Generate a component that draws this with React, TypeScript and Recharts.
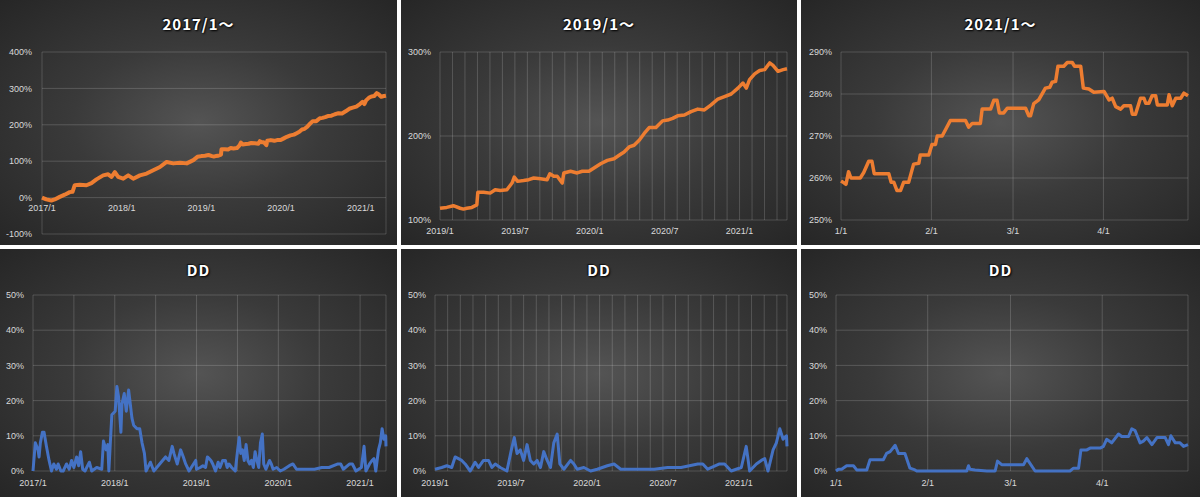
import React from 'react';
import { LineChart, Line, XAxis, YAxis, CartesianGrid, ReferenceDot } from 'recharts';

// ---------- Cumulative return (%) by month index since 2017/1 ----------
const eqMonths = [
  0, 0.65, 1.41, 1.91, 2.67, 3.42, 4.18, 4.6, 4.93, 5.69, 6.69, 7.45, 8.2, 9.21, 9.96, 10.47, 10.97, 11.47,
  12.23, 12.98, 13.74, 14.74, 15.75, 16.75, 17.76, 18.77, 19.77, 20.78, 21.79, 22.79, 23.4,
  24.0, 24.54, 25.07, 25.61, 25.88, 26.15, 26.55, 26.95, 27.03, 27.49, 28.02, 28.42, 28.83, 29.36, 29.77,
  29.95, 30.22, 30.7, 31.11, 31.51, 32.05, 32.58, 32.8, 33.12, 33.39, 33.79, 33.92, 34.46, 34.99, 35.4,
  35.93, 36.34, 36.87, 37.41, 37.94, 38.35, 38.75, 39.15, 39.55, 39.96, 40.36, 40.76, 41.3, 41.83, 42.24,
  42.64, 43.04, 43.58, 44.11, 44.65, 45.18, 45.72, 46.26, 46.79, 47.33, 47.87, 48.27, 48.54, 48.8, 49.21,
  49.61, 50.01, 50.41, 50.68, 51.08, 51.49, 51.8,
];
const eqValues = [
  0, -5, -8, -5, 2, 8, 15, 16, 34, 35, 34, 40, 50, 61, 64, 57, 70, 57,
  52, 61, 52, 61, 66, 75, 84, 98, 94, 96, 94, 103, 112,
  114, 115, 117, 114, 113, 114, 115, 118, 133, 133, 132, 136, 135, 136, 144,
  151, 146, 147, 148, 150, 149, 148, 155, 152, 152, 144, 156, 158, 156, 158,
  158, 162, 167, 171, 173, 177, 181, 187, 189, 195, 203, 210, 210, 218, 219,
  221, 224, 225, 229, 232, 231, 237, 244, 247, 250, 257, 263, 257, 267, 274,
  278, 279, 287, 284, 277, 279, 280,
];

// ---------- Drawdown (%) by month index since 2017/1 ----------
const ddMonths = [
  0, 0.34, 0.74, 0.89, 1.08, 1.38, 1.62, 1.97, 2.36, 2.71, 3.05, 3.45, 3.69, 4.09, 4.43, 4.92, 5.32, 5.66,
  6.0, 6.4, 6.7, 6.99, 7.29, 7.63, 8.27, 8.62, 9.35, 10.09, 10.34, 10.73, 10.98, 11.13, 11.32, 11.57, 12.06,
  12.31, 12.56, 12.9, 13.05, 13.39, 13.69, 14.03, 14.28, 14.52, 14.77, 15.26, 15.66, 16.0, 16.35, 16.59,
  17.23, 17.73, 19.45, 19.94, 20.43, 20.68, 21.17, 21.66, 22.06, 22.4, 22.9, 23.88,
  24.0, 24.53, 24.93, 25.32, 25.59, 25.85, 26.11, 26.38, 26.78, 27.17, 27.44, 27.83, 28.23, 28.49, 28.76,
  29.15, 29.68, 30.03, 30.26, 30.48, 30.74, 31.0, 31.27, 31.53, 31.8, 32.06, 32.33, 32.59, 32.86, 33.12,
  33.38, 33.65, 33.86, 34.18, 34.71, 34.97, 35.23, 35.76, 36.29, 36.82, 37.61, 38.14, 38.67, 39.73, 41.31,
  42.37, 43.43, 44.75, 45.15, 45.54, 46.47, 46.87, 47.39, 48.19, 48.58, 48.85, 49.38, 49.77, 50.04, 50.3,
  50.7, 50.96, 51.23, 51.49, 51.76, 51.8,
];
const ddValues = [
  0, 8, 6, 4, 8, 11, 11, 7, 3, 0, 2, 0.5, 2, 0, 0, 2, 0.5, 3,
  1, 4, 1.5, 5.5, 0.5, 0, 2.5, 0, 1, 0.5, 8.5, 6, 7.5, 0, 7, 16, 17,
  24, 21, 11, 19, 22, 17, 23, 19, 15, 13, 12, 12, 8, 5, 0,
  2.5, 0, 4, 3, 7, 5, 2, 6, 4, 2, 0, 3,
  0.5, 1, 1.5, 1, 4, 3.5, 3, 2, 0, 2.5, 1, 3, 3, 1, 2,
  1, 0, 6, 9.5, 5, 6, 3, 7.5, 3, 2, 3, 1, 5.5, 3, 1,
  8, 10.5, 2, 0.5, 3, 2, 0.5, 1, 0, 0.5, 1.5, 2, 0.5, 0.5, 0.5,
  1, 1, 2, 2, 0.5, 2, 2, 0, 1, 7, 0, 2, 3, 3.5, 0,
  6, 8, 12, 9, 10, 7,
];

// ---------- 2021 daily (day index since 2021/1/1) ----------
const eq21Days = [
  0, 0.9, 1.7, 2.6, 3.4, 6.6, 7.8, 9.5, 10.6, 11.4, 16.4, 17.2, 18.1, 19.2, 20.4, 21.5, 23.2, 24.9, 26.7,
  27.2, 30.1, 31.2, 32.4, 33.0, 34.7, 37.5, 42.7, 43.8, 45.0, 47.8, 48.4, 51.3, 52.4, 53.5, 54.3, 55.8,
  57.0, 63.3, 64.4, 65.0, 66.1, 67.8, 70.1, 71.6, 72.4, 73.6, 74.4, 76.4, 77.6, 79.3, 80.1, 82.2, 83.1,
  85.0, 86.7, 90.2, 91.9, 93.0, 94.2, 95.9, 97.0, 99.3, 99.9, 101.0, 102.7, 103.9, 104.5, 105.6, 106.7,
  107.9, 108.5, 111.9, 112.5, 113.6, 114.8, 116.5, 117.6, 119,
];
const eq21Values = [
  259.3, 258.9, 258.5, 261.5, 260, 260, 261.3, 264, 264, 261, 261, 259, 259, 257, 257, 259, 259, 263.3, 263.5,
  265.5, 265.5, 268, 268, 270, 270, 273.7, 273.7, 272.1, 273, 273, 276.4, 276.4, 278.5, 278.5, 275.5, 275.5,
  276.6, 276.6, 274.8, 274.8, 277.7, 278.6, 281.4, 281.6, 282.8, 283, 286.6, 286.6, 287.5, 287.5, 286.6, 286.6, 281.4,
  281.2, 280.4, 280.6, 278.6, 279, 277, 276.4, 277.2, 277.2, 275.2, 275.2, 279, 279, 277.8, 277.8, 279.6,
  279.6, 277.4, 277.4, 279.8, 277.2, 279, 279, 280.2, 279.6,
];
const dd21Days = [
  0, 0.8, 1.9, 3.6, 5.9, 7.0, 10.4, 11.5, 16.0, 17.1, 18.3, 20.0, 21.1, 23.3, 25.0, 26.7, 27.3, 44.2, 44.8,
  45.3, 47.0, 51.0, 53.8, 54.6, 56.0, 63.4, 64.5, 67.3, 79.1, 80.3, 82.0, 82.8, 84.8, 85.9, 89.3, 90.4, 91.5,
  93.2, 95.5, 96.6, 98.9, 100.0, 101.1, 102.8, 103.9, 105.1, 106.8, 108.5, 111.3, 112.4, 113.2, 114.7, 116.3,
  117.5, 119,
];
const dd21Values = [
  0, 0.5, 0.5, 1.5, 1.5, 0.3, 0.3, 3.2, 3.2, 5, 5.5, 7.3, 5, 5, 0.8, 0.3, 0, 0, 1.5,
  0.5, 0.3, 0, 0, 2.8, 1.8, 1.8, 3.5, 0, 0, 0.8, 0.8, 6, 6, 6.5, 6.5, 7, 9,
  8, 10.5, 9.8, 9.8, 12, 11.5, 8, 8.5, 9.5, 7.5, 9.5, 9.5, 7.5, 10, 8, 8,
  7, 7.5,
];

// ---------- Axis ticks & labels ----------
const halfYearTicks = [0, 6, 12, 18, 24, 30, 36, 42, 48, 51.8];
const yearLabelMonths = [0, 12, 24, 36, 48];
const yearLabels = ['2017/1', '2018/1', '2019/1', '2020/1', '2021/1'];
const monthTicksFrom2019 = [24, 25, 26, 27, 28, 29, 30, 31, 32, 33, 34, 35, 36, 37, 38, 39, 40, 41, 42, 43, 44, 45, 46, 47, 48, 49, 50, 51, 51.8];
const halfYearLabels2019: Record<number, string> = { 24: '2019/1', 30: '2019/7', 36: '2020/1', 42: '2020/7', 48: '2021/1' };
const dayTicks2021 = [0, 31, 59, 90, 119];
const dayLabels2021: Record<number, string> = { 0: '1/1', 31: '2/1', 59: '3/1', 90: '4/1' };

const eqAllTicks = [-100, 0, 100, 200, 300, 400];
const eq2019Ticks = [100, 200, 300];
const eq2021Ticks = [250, 260, 270, 280, 290];
const ddTicks = [0, 10, 20, 30, 40, 50];

const titles = ['2017/1～', '2019/1～', '2021/1～', 'DD'];

const zip = (xs: number[], ys: number[]) => xs.map((t, i) => ({ t, v: ys[i] }));
const eqAll = zip(eqMonths, eqValues);
const eq2019 = eqAll.filter((d) => d.t >= 24);
const eq2021 = zip(eq21Days, eq21Values);
const ddAll = zip(ddMonths, ddValues);
const dd2019 = ddAll.filter((d) => d.t >= 24);
const dd2021 = zip(dd21Days, dd21Values);

const ORANGE = '#ED7D31';
const BLUE = '#4472C4';
const GRID = 'rgba(255,255,255,0.17)';
const LABEL = '#d9d9d9';
const FONT = '"Liberation Sans", Arial, sans-serif';
const tickStyle = { fill: LABEL, fontSize: 9, fontFamily: FONT };
const pct = (v: number) => `${v}%`;

function Panel(props: {
  left: number; top: number; width: number; height: number; title: string; titleTop: number; children: React.ReactNode;
}) {
  const { left, top, width, height, title, titleTop, children } = props;
  return (
    <div
      style={{
        position: 'absolute', left, top, width, height, overflow: 'hidden',
        background: 'radial-gradient(ellipse farthest-corner at 50% 50%, #545454 0%, #3a3a3a 45%, #262626 100%)',
      }}
    >
      <div
        style={{
          position: 'absolute', left: 0, top: titleTop, width: '100%', textAlign: 'center',
          fontFamily: '"Noto Sans CJK JP", "Noto Sans", sans-serif', fontWeight: 700, fontSize: 15, lineHeight: '15px',
          letterSpacing: 1, color: '#ffffff', textShadow: '1px 1px 2px #000, -1px -1px 1px #111',
          pointerEvents: 'none', zIndex: 2,
        }}
      >
        {title}
      </div>
      {children}
    </div>
  );
}

export default function App() {
  return (
    <div style={{ position: 'fixed', left: 0, top: 0, width: 1200, height: 497, background: '#ffffff' }}>
      {/* Top-left: 2017/1~ */}
      <Panel left={0} top={0} width={397} height={245} title={titles[0]} titleTop={16}>
        <LineChart width={397} height={245} data={eqAll} margin={{ top: 52, right: 11, bottom: 11, left: 0 }}>
          <CartesianGrid stroke={GRID} />
          <XAxis dataKey="t" type="number" domain={[0, 51.8]} ticks={halfYearTicks} tick={false} axisLine={false} tickLine={false} height={0} />
          <YAxis type="number" domain={[-100, 400]} ticks={eqAllTicks} tickFormatter={pct} width={42} axisLine={false} tickLine={false} tickMargin={4} tick={tickStyle} />
          {yearLabelMonths.map((m, i) => (
            <ReferenceDot key={m} x={m} y={0} r={1} fill="none" stroke="none"
              label={{ value: yearLabels[i], position: 'bottom', offset: 6, fill: LABEL, fontSize: 9, fontFamily: FONT }} />
          ))}
          <Line dataKey="v" stroke={ORANGE} strokeWidth={4} dot={false} isAnimationActive={false} strokeLinejoin="round" />
        </LineChart>
      </Panel>

      {/* Top-middle: 2019/1~ */}
      <Panel left={401} top={0} width={396} height={245} title={titles[1]} titleTop={16}>
        <LineChart width={396} height={245} data={eq2019} margin={{ top: 52, right: 10, bottom: 0, left: 0 }}>
          <CartesianGrid stroke={GRID} />
          <XAxis dataKey="t" type="number" domain={[24, 51.8]} ticks={monthTicksFrom2019} interval={0}
            tickFormatter={(v: number) => halfYearLabels2019[v] ?? ''} axisLine={false} tickLine={false} height={25} tick={tickStyle} />
          <YAxis type="number" domain={[100, 300]} ticks={eq2019Ticks} tickFormatter={pct} width={39} axisLine={false} tickLine={false} tickMargin={3} tick={tickStyle} />
          <Line dataKey="v" stroke={ORANGE} strokeWidth={3.5} dot={false} isAnimationActive={false} strokeLinejoin="round" />
        </LineChart>
      </Panel>

      {/* Top-right: 2021/1~ */}
      <Panel left={801} top={0} width={399} height={245} title={titles[2]} titleTop={16}>
        <LineChart width={399} height={245} data={eq2021} margin={{ top: 52, right: 12, bottom: 0, left: 0 }}>
          <CartesianGrid stroke={GRID} />
          <XAxis dataKey="t" type="number" domain={[0, 119]} ticks={dayTicks2021} interval={0}
            tickFormatter={(v: number) => dayLabels2021[v] ?? ''} axisLine={false} tickLine={false} height={25} tick={tickStyle} />
          <YAxis type="number" domain={[250, 290]} ticks={eq2021Ticks} tickFormatter={pct} width={40} axisLine={false} tickLine={false} tickMargin={3} tick={tickStyle} />
          <Line dataKey="v" stroke={ORANGE} strokeWidth={3.5} dot={false} isAnimationActive={false} strokeLinejoin="round" />
        </LineChart>
      </Panel>

      {/* Bottom-left: DD 2017~ */}
      <Panel left={0} top={249} width={397} height={248} title={titles[3]} titleTop={13}>
        <LineChart width={397} height={248} data={ddAll} margin={{ top: 46, right: 11, bottom: 0, left: 0 }}>
          <CartesianGrid stroke={GRID} />
          <XAxis dataKey="t" type="number" domain={[0, 51.8]} ticks={halfYearTicks} interval={0}
            tickFormatter={(v: number) => { const i = yearLabelMonths.indexOf(v); return i >= 0 ? yearLabels[i] : ''; }}
            axisLine={false} tickLine={false} height={26} tickMargin={3} tick={tickStyle} />
          <YAxis type="number" domain={[0, 50]} ticks={ddTicks} tickFormatter={pct} width={33} axisLine={false} tickLine={false} tickMargin={3} tick={tickStyle} />
          <Line dataKey="v" stroke={BLUE} strokeWidth={3} dot={false} isAnimationActive={false} strokeLinejoin="round" />
        </LineChart>
      </Panel>

      {/* Bottom-middle: DD 2019~ */}
      <Panel left={401} top={249} width={396} height={248} title={titles[3]} titleTop={13}>
        <LineChart width={396} height={248} data={dd2019} margin={{ top: 46, right: 10, bottom: 0, left: 0 }}>
          <CartesianGrid stroke={GRID} />
          <XAxis dataKey="t" type="number" domain={[24, 51.8]} ticks={monthTicksFrom2019} interval={0}
            tickFormatter={(v: number) => halfYearLabels2019[v] ?? ''} axisLine={false} tickLine={false} height={26} tickMargin={3} tick={tickStyle} />
          <YAxis type="number" domain={[0, 50]} ticks={ddTicks} tickFormatter={pct} width={34} axisLine={false} tickLine={false} tickMargin={3} tick={tickStyle} />
          <Line dataKey="v" stroke={BLUE} strokeWidth={3} dot={false} isAnimationActive={false} strokeLinejoin="round" />
        </LineChart>
      </Panel>

      {/* Bottom-right: DD 2021~ */}
      <Panel left={801} top={249} width={399} height={248} title={titles[3]} titleTop={13}>
        <LineChart width={399} height={248} data={dd2021} margin={{ top: 46, right: 12, bottom: 0, left: 0 }}>
          <CartesianGrid stroke={GRID} />
          <XAxis dataKey="t" type="number" domain={[0, 119]} ticks={dayTicks2021} interval={0}
            tickFormatter={(v: number) => dayLabels2021[v] ?? ''} axisLine={false} tickLine={false} height={26} tickMargin={3} tick={tickStyle} />
          <YAxis type="number" domain={[0, 50]} ticks={ddTicks} tickFormatter={pct} width={35} axisLine={false} tickLine={false} tickMargin={3} tick={tickStyle} />
          <Line dataKey="v" stroke={BLUE} strokeWidth={3} dot={false} isAnimationActive={false} strokeLinejoin="round" />
        </LineChart>
      </Panel>
    </div>
  );
}
